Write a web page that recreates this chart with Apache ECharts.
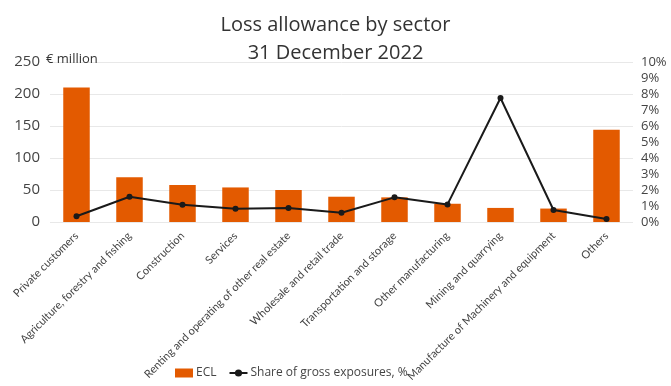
<!DOCTYPE html>
<html><head><meta charset="utf-8">
<script src="https://cdn.jsdelivr.net/npm/echarts@6/dist/echarts.min.js"></script>
<style>html,body{margin:0;padding:0;background:#fff}#c{width:671px;height:386px}</style>
</head><body><div id="c"></div>
<script>
const categories = ["Private customers","Agriculture, forestry and fishing","Construction","Services","Renting and operating of other real estate","Wholesale and retail trade","Transportation and storage","Other manufacturing","Mining and quarrying","Manufacture of Machinery and equipment","Others"];
const eclValues = [210, 70, 58, 54, 50, 39.5, 38.5, 28.5, 22, 21, 144];
const shareValues = [0.36, 1.58, 1.08, 0.83, 0.87, 0.58, 1.54, 1.1, 7.75, 0.75, 0.19];
const leftTicks = [0, 50, 100, 150, 200, 250];
const rightTicks = [0,1,2,3,4,5,6,7,8,9,10];

const font = "'Open Sans', 'Noto Sans', sans-serif";
const chart = echarts.init(document.getElementById('c'), null, {renderer:'canvas'});
chart.setOption({
  animation: false,
  title: {
    text: "Loss allowance by sector\n31 December 2022",
    left: 'center', top: 6,
    textStyle: {fontFamily: font, fontSize: 20, fontWeight: 'normal', color: '#333', lineHeight: 28}
  },
  legend: {
    bottom: 2, left: 170, itemGap: 12, itemWidth: 18, itemHeight: 9,
    textStyle: {fontFamily: font, fontSize: 12, color: '#444', padding: [0,0,0,-2]},
    data: [{name:'ECL', icon:'rect'}, {name:'Share of gross exposures, %'}]
  },
  grid: {left: 50, right: 38, top: 62, bottom: 164},
  xAxis: {
    type: 'category', data: categories,
    axisLine: {show: false}, axisTick: {show: false},
    axisLabel: {rotate: 45, interval: 0, fontFamily: "Lato, 'Open Sans', sans-serif", fontSize: 11, color: '#444', margin: 12}
  },
  yAxis: [{
    type: 'value', min: leftTicks[0], max: leftTicks[leftTicks.length-1], interval: 50,
    name: '€ million', nameLocation: 'end', nameGap: -4, nameMoveOverlap: false,
    nameTextStyle: {fontFamily: font, fontSize: 13, color: '#333', align: 'left', padding: [0,0,0,-4]},
    axisLabel: {fontFamily: font, fontSize: 15, color: '#444', margin: 10},
    splitLine: {lineStyle: {color: '#e8e8e8'}},
    axisLine: {show: false}, axisTick: {show: false}
  },{
    type: 'value', min: rightTicks[0], max: rightTicks[rightTicks.length-1], interval: 1,
    axisLabel: {fontFamily: font, fontSize: 13, color: '#444', margin: 8, formatter: v => v + '%'},
    splitLine: {show: false}, axisLine: {show: false}, axisTick: {show: false}
  }],
  series: [{
    name: 'ECL', type: 'bar', data: eclValues, barWidth: '50%',
    itemStyle: {color: '#e35a00'}
  },{
    name: 'Share of gross exposures, %', type: 'line', yAxisIndex: 1, data: shareValues,
    symbol: 'circle', symbolSize: 6,
    lineStyle: {color: '#1a1a1a', width: 2}, itemStyle: {color: '#1a1a1a'}
  }]
});
</script></body></html>
